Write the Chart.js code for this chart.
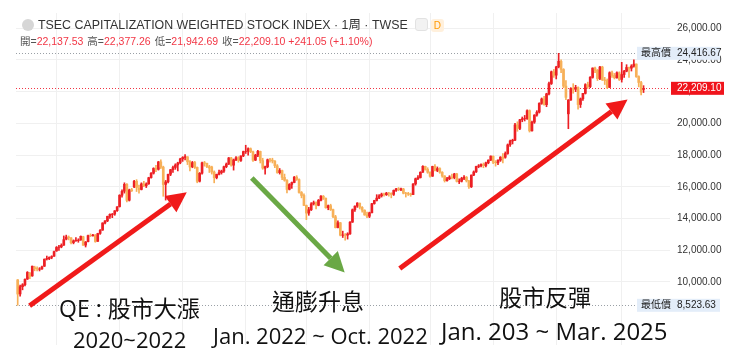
<!DOCTYPE html>
<html>
<head>
<meta charset="utf-8">
<script src="https://cdn.jsdelivr.net/npm/chart.js@4.4.1/dist/chart.umd.min.js"></script>
<style>
  html, body { margin: 0; padding: 0; background: #fff; }
  #wrap { position: relative; width: 740px; height: 358px; overflow: hidden; }
  #chart { position: absolute; left: 0; top: 0; }
  .hdr { position: absolute; left: 0; top: 0; font-family: "Liberation Sans", Arial, "Noto Sans CJK TC", sans-serif; color: #333; white-space: nowrap; }
  .title { position: absolute; left: 22px; top: 18px; font-size: 12.4px; line-height: 14px; }
  .title .dot { display: inline-block; width: 12px; height: 12px; border-radius: 50%; background: #d6d6d6; vertical-align: -2px; margin-right: 4px; }
  .title .b1 { display: inline-block; width: 11px; height: 11px; border-radius: 3px; background: #f2f2f2; border: 1px solid #e2e2e2; vertical-align: -2px; margin-left: 7px; }
  .title .b2 { display: inline-block; padding: 0 3px; border-radius: 3px; background: #fff0dc; color: #ff9800; font-size: 10px; line-height: 13px; margin-left: 3px; }
  .ohlc { position: absolute; left: 20px; top: 35px; font-size: 10.5px; line-height: 12px; color: #555; }
  .ohlc b { font-weight: normal; color: #f23645; margin-right: 4px; }
  .note { position: absolute; color: #111; font-family: "Open Sans", "Noto Sans CJK TC", sans-serif; line-height: 1; white-space: nowrap; }
</style>
</head>
<body>
<div id="wrap">
  <canvas id="chart" width="740" height="358"></canvas>
  <div class="hdr">
    <div class="title"><span class="dot"></span>TSEC CAPITALIZATION WEIGHTED STOCK INDEX · 1周 · TWSE<span class="b1"></span><span class="b2">D</span></div>
    <div class="ohlc" id="ohlc"></div>
  </div>
  <div class="note" style="left:59px;top:297px;font-size:23px;">QE : 股市大漲</div>
  <div class="note" style="left:73px;top:328px;font-size:22px;">2020~2022</div>
  <div class="note" style="left:272px;top:290px;font-size:23px;">通膨升息</div>
  <div class="note" style="left:213px;top:324px;font-size:22px;">Jan. 2022 ~ Oct. 2022</div>
  <div class="note" style="left:499px;top:286px;font-size:23px;">股市反彈</div>
  <div class="note" style="left:441px;top:319px;font-size:24px;">Jan. 203 ~ Mar. 2025</div>
</div>
<script>
// TAIEX weekly candles, week of 2020-03-16 to week of 2025-03-17
const opens = [
  10130, 9240, 9700, 9820, 10180, 10550, 10380, 10900, 10850, 10800,
  10820, 10990, 11450, 11470, 11550, 11620, 11950, 12180, 12210, 12320,
  12700, 12830, 12780, 12480, 12600, 12610, 12650, 12850, 12320, 12540,
  12920, 12910, 12950, 12560, 13060, 13270, 13720, 13850, 14140, 14250,
  14280, 14490, 14750, 15470, 15720, 16150, 15150, 15810, 16000, 16350,
  15900, 15830, 16180, 16060, 16190, 16580, 16860, 17160, 17100, 17570,
  17240, 16150, 16310, 16790, 17080, 17220, 17380, 17510, 17760, 17850,
  17890, 17580, 17260, 17530, 17220, 16350, 16860, 17520, 17480, 17270,
  17250, 16930, 16580, 16790, 16890, 16990, 17270, 17430, 17820, 17360,
  17700, 17830, 17660, 17950, 18230, 18240, 18400, 18200, 17680, 18000,
  18230, 17650, 17170, 17270, 17710, 17680, 17620, 17320, 16890, 17020,
  16590, 16400, 15840, 16150, 16270, 16610, 16450, 15640, 15450, 14820,
  14340, 14550, 14920, 15000, 14830, 15150, 15400, 15270, 14680, 14810,
  14560, 14110, 13430, 13730, 12940, 12960, 12950, 13030, 13770, 14550,
  14780, 14960, 14700, 14520, 14230, 14140, 14360, 14940, 15140, 15290,
  15430, 15540, 15500, 15600, 15590, 15520, 15780, 15870, 15830, 15860,
  15590, 15580, 15540, 15510, 16180, 16510, 16580, 16920, 17290, 17100,
  16920, 16670, 17290, 17030, 17150, 16920, 16680, 16380, 16510, 16620,
  16580, 16810, 16340, 16350, 16530, 16600, 16370, 16000, 16740, 16940,
  17280, 17320, 17410, 17340, 17510, 17680, 17920, 17550, 17510, 17680,
  17870, 17860, 18100, 18650, 18890, 18940, 19900, 19680, 20230, 20290,
  20300, 20800, 19530, 20080, 20520, 20710, 21260, 21540, 21180, 21860,
  22510, 23250, 23040, 23560, 23910, 23400, 22350, 20600, 21470, 22190,
  22150, 22260, 21190, 21550, 21890, 22440, 22320, 22900, 23490, 23350,
  22830, 23550, 22740, 22700, 22270, 23190, 23020, 22870, 23190, 22770,
  23080, 23290, 23520, 23480, 23610, 23740, 22950, 22570, 22137.53
];
const highs = [
  10150, 9800, 9890, 10200, 10650, 10600, 11000, 10990, 10950, 10900,
  11000, 11450, 11630, 11580, 11650, 11950, 12230, 12300, 12400, 12900,
  12950, 12900, 12800, 12650, 12800, 12720, 12900, 12880, 12550, 12950,
  13030, 13000, 12990, 13070, 13300, 13730, 13860, 14150, 14300, 14320,
  14500, 14750, 15500, 15800, 16250, 16200, 15850, 15900, 16400, 16450,
  16100, 16250, 16350, 16250, 16600, 16900, 17200, 17350, 17600, 17700,
  17300, 16400, 16800, 17100, 17300, 17450, 17550, 17800, 17900, 18034,
  17900, 17650, 17600, 17600, 17250, 16900, 17550, 17600, 17500, 17350,
  17300, 17000, 16800, 17050, 17050, 17300, 17500, 17850, 17850, 17750,
  17900, 17900, 17950, 18250, 18619, 18450, 18450, 18250, 18050, 18300,
  18250, 17800, 17300, 17750, 17800, 17800, 17650, 17400, 17150, 17050,
  16800, 16450, 16200, 16300, 16650, 16700, 16500, 15700, 15550, 14850,
  14700, 15000, 15100, 15050, 15200, 15450, 15450, 15300, 14850, 14900,
  14600, 14200, 13850, 13750, 13200, 13050, 13100, 13800, 14600, 14800,
  15000, 14980, 14750, 14550, 14400, 14400, 14950, 15150, 15500, 15500,
  15600, 15600, 15650, 15650, 15620, 15800, 15900, 15950, 15920, 15900,
  15650, 15650, 15600, 16200, 16550, 16700, 16950, 17330, 17300, 17200,
  16950, 17300, 17400, 17250, 17200, 16950, 16700, 16600, 16700, 16800,
  16850, 16850, 16500, 16600, 16700, 16650, 16400, 16750, 17000, 17300,
  17400, 17450, 17500, 17550, 17700, 17950, 17950, 17650, 17700, 17900,
  18100, 18200, 18700, 18950, 19000, 20000, 20100, 20250, 20400, 20500,
  20850, 20850, 20150, 20550, 20800, 21300, 21600, 21700, 21900, 22600,
  23300, 23400, 23600, 24416.67, 24000, 23450, 22700, 21500, 22250, 22500,
  22400, 22300, 21600, 21900, 22500, 22600, 22950, 23500, 23550, 23400,
  23600, 23600, 22900, 22800, 23250, 23300, 23150, 23250, 23250, 23850,
  23350, 23700, 23550, 23700, 24000, 23750, 23000, 22650, 22377.26
];
const lows = [
  8523.63, 9100, 9500, 9750, 10150, 10200, 10350, 10700, 10700, 10690,
  10780, 10970, 11380, 11400, 11460, 11600, 11930, 11980, 12150, 12300,
  12650, 12650, 12400, 12400, 12550, 12500, 12620, 12300, 12200, 12520,
  12850, 12880, 12500, 12550, 13000, 13250, 13650, 13800, 14000, 14050,
  14200, 14450, 14720, 15350, 15600, 15050, 15100, 15700, 15950, 15700,
  15600, 15800, 16000, 15950, 16150, 16550, 16800, 16950, 17050, 17150,
  15400, 15160, 16250, 16700, 16900, 17100, 17000, 17450, 17600, 17700,
  17400, 17000, 17200, 17150, 16250, 16300, 16800, 17300, 17200, 16900,
  16800, 16248, 16500, 16750, 16800, 16900, 17200, 17400, 17300, 17050,
  17650, 17550, 17600, 17900, 18100, 18000, 18150, 17600, 17650, 17900,
  17500, 17100, 16800, 17200, 17550, 17500, 17200, 16850, 16800, 16450,
  16350, 15616, 15800, 15900, 16250, 16400, 15600, 15300, 14800, 13928,
  14200, 14500, 14850, 14600, 14800, 15100, 15200, 14650, 14550, 14500,
  14050, 13400, 13400, 12900, 12800, 12629, 12700, 13000, 13750, 14450,
  14700, 14600, 14400, 14200, 14050, 14050, 14350, 14900, 15100, 15250,
  15350, 15400, 15450, 15400, 15300, 15450, 15700, 15750, 15750, 15550,
  15350, 15450, 15400, 15500, 16100, 16450, 16550, 16900, 17050, 16850,
  16600, 16650, 17000, 16950, 16850, 16600, 16300, 16350, 16450, 16500,
  16500, 16300, 16200, 16300, 16450, 16300, 15900, 15950, 16700, 16900,
  17200, 17250, 17200, 17250, 17450, 17650, 17450, 17300, 17400, 17600,
  17500, 17800, 18050, 18550, 18700, 18900, 19500, 19600, 20100, 20150,
  20250, 19450, 19500, 20000, 20450, 20650, 21200, 21150, 21050, 21800,
  22450, 22900, 22800, 23500, 23200, 22250, 21500, 19662, 21450, 21900,
  22000, 20900, 21000, 21450, 21850, 22200, 22250, 22850, 23200, 22700,
  22750, 22700, 22450, 22200, 22250, 22900, 22800, 22850, 22700, 22600,
  22900, 23250, 22900, 23300, 23550, 22900, 22300, 21800, 21942.69
];
const closes = [
  9234, 9698, 9818, 10157, 10597, 10347, 10992, 10842, 10814, 10811,
  10942, 11430, 11480, 11539, 11600, 11909, 12173, 12200, 12305, 12664,
  12828, 12794, 12470, 12591, 12624, 12634, 12875, 12312, 12515, 12919,
  12908, 12956, 12546, 13050, 13261, 13716, 13845, 14133, 14261, 14270,
  14482, 14732, 15464, 15707, 16153, 15138, 15802, 15750, 16341, 15953,
  15820, 16179, 16070, 16178, 16571, 16855, 17158, 17097, 17566, 17235,
  16146, 16302, 16778, 17076, 17213, 17371, 17502, 17755, 17847, 17895,
  17573, 17247, 17526, 17219, 16341, 16849, 17510, 17474, 17276, 17180,
  16934, 16571, 16781, 16888, 16987, 17264, 17427, 17817, 17370, 17697,
  17826, 17669, 17946, 18218, 18239, 18403, 18218, 17674, 17997, 18232,
  17652, 17178, 17264, 17704, 17676, 17625, 17325, 16898, 17025, 16592,
  16408, 15832, 16144, 16266, 16605, 16460, 15641, 15449, 14825, 14340,
  14551, 14921, 14999, 14830, 15151, 15408, 15278, 14673, 14807, 14559,
  14118, 13424, 13732, 12946, 12960, 12949, 13026, 13767, 14550, 14778,
  14970, 14705, 14527, 14224, 14137, 14359, 14932, 15132, 15285, 15427,
  15535, 15503, 15598, 15585, 15521, 15773, 15868, 15829, 15867, 15589,
  15579, 15540, 15502, 16174, 16505, 16578, 16912, 17288, 17098, 16915,
  16664, 17283, 17030, 17145, 16917, 16681, 16381, 16504, 16617, 16580,
  16807, 16343, 16353, 16526, 16601, 16374, 16001, 16734, 16935, 17279,
  17318, 17405, 17335, 17508, 17678, 17931, 17550, 17514, 17682, 17868,
  17780, 18096, 18644, 18889, 18935, 19901, 19682, 20228, 20294, 20300,
  20796, 19527, 20073, 20516, 20706, 21258, 21537, 21174, 21858, 22504,
  23253, 23032, 23556, 23917, 23403, 22342, 21638, 21469, 22191, 22148,
  22268, 21186, 21544, 21889, 22440, 22319, 22902, 23487, 23348, 22820,
  23553, 22743, 22700, 22262, 23193, 23021, 22875, 23190, 22768, 23079,
  23283, 23525, 23478, 23614, 23737, 22948, 22577, 21968.05, 22209.10
];
// weeks with no trading (Lunar New Year) have no candle
const closedWeeks = ['2022-01-31', '2023-01-23', '2025-01-27'];
const yTicks = [10000, 12000, 14000, 16000, 18000, 20000, 22000, 24000, 26000];

// annotation arrows: [fromWeek, fromPrice, toWeek, toPrice, colour]
const arrows = [
  [4.9, 8500, 69.7, 15650, '#f01a1a'],
  [96.5, 16550, 134.8, 10600, '#6aa845'],
  [157.5, 10850, 251.4, 21500, '#f01a1a']
];

const weeks = [];
let d = new Date(Date.UTC(2020, 2, 16));
while (weeks.length < closes.length) {
  const s = d.toISOString().slice(0, 10);
  if (!closedWeeks.includes(s)) weeks.push(s);
  d.setUTCDate(d.getUTCDate() + 7);
}
const halfOf = s => s.slice(0, 4) + (Number(s.slice(5, 7)) <= 6 ? 'a' : 'b');
const gridWeeks = [];
for (let i = 1; i < weeks.length; i++) {
  if (halfOf(weeks[i]) !== halfOf(weeks[i - 1])) gridWeeks.push(i);
}

const UP = '#ec1f24', DOWN = '#f7b058';
const colors = closes.map((c, i) => c >= opens[i] ? UP : DOWN);
const fmt = v => v.toLocaleString('en-US', { minimumFractionDigits: 2, maximumFractionDigits: 2 });

const last = closes.length - 1;
const chg = closes[last] - closes[last - 1];
document.getElementById('ohlc').innerHTML =
  '開=<b>' + fmt(opens[last]) + '</b>高=<b>' + fmt(highs[last]) + '</b>低=<b>' + fmt(lows[last]) +
  '</b>收=<b>' + fmt(closes[last]) + ' +' + fmt(chg) + ' (+' + (chg / closes[last - 1] * 100).toFixed(2) + '%)</b>';

const maxVal = Math.max(...highs);
const minVal = Math.min(...lows);

function drawArrow(ctx, x0, y0, x1, y1, color) {
  const a = Math.atan2(y1 - y0, x1 - x0);
  const head = 20, half = 10;
  const bx = x1 - head * Math.cos(a), by = y1 - head * Math.sin(a);
  ctx.strokeStyle = color;
  ctx.lineWidth = 5;
  ctx.beginPath();
  ctx.moveTo(x0, y0);
  ctx.lineTo(bx, by);
  ctx.stroke();
  ctx.fillStyle = color;
  ctx.beginPath();
  ctx.moveTo(x1, y1);
  ctx.lineTo(bx + half * Math.sin(a), by - half * Math.cos(a));
  ctx.lineTo(bx - half * Math.sin(a), by + half * Math.cos(a));
  ctx.closePath();
  ctx.fill();
}

function tag(ctx, y, label, value, bg, fg) {
  ctx.font = '10px "Liberation Sans", Arial, "Noto Sans CJK TC"';
  ctx.textBaseline = 'middle';
  const x0 = label ? 637 : 671;
  const x1 = label ? 720 : 724;
  ctx.fillStyle = bg;
  ctx.fillRect(x0, y - 6.5, x1 - x0, 13);
  ctx.fillStyle = fg;
  if (label) ctx.fillText(label, 641, y);
  ctx.fillText(value, 677, y);
}

const markers = {
  id: 'markers',
  beforeDatasetsDraw(chart) {
    const { ctx, chartArea, scales: { y } } = chart;
    ctx.save();
    ctx.lineWidth = 1;
    ctx.setLineDash([1, 2]);
    ctx.strokeStyle = '#9aa0a6';
    [maxVal, minVal].forEach(v => {
      const py = Math.round(y.getPixelForValue(v)) + 0.5;
      ctx.beginPath(); ctx.moveTo(chartArea.left, py); ctx.lineTo(637, py); ctx.stroke();
    });
    ctx.strokeStyle = '#f23645';
    const pc = Math.round(y.getPixelForValue(closes[last])) + 0.5;
    ctx.beginPath(); ctx.moveTo(chartArea.left, pc); ctx.lineTo(chartArea.right, pc); ctx.stroke();
    ctx.restore();
  },
  afterDraw(chart) {
    const { ctx, scales: { x, y } } = chart;
    ctx.save();
    tag(ctx, y.getPixelForValue(maxVal), '最高價', fmt(maxVal), '#e3edf9', '#222');
    tag(ctx, y.getPixelForValue(minVal), '最低價', fmt(minVal), '#e3edf9', '#222');
    tag(ctx, y.getPixelForValue(closes[last]), '', fmt(closes[last]), '#f0141c', '#fff');
    arrows.forEach(([w0, p0, w1, p1, c]) => {
      drawArrow(ctx, x.getPixelForValue(w0), y.getPixelForValue(p0), x.getPixelForValue(w1), y.getPixelForValue(p1), c);
    });
    ctx.restore();
  }
};

new Chart(document.getElementById('chart'), {
  type: 'bar',
  data: {
    datasets: [
      {
        label: 'wick',
        data: closes.map((c, i) => ({ x: i, y: [lows[i], highs[i]] })),
        backgroundColor: colors,
        barThickness: 1,
        grouped: false,
        order: 2
      },
      {
        label: 'body',
        data: closes.map((c, i) => ({ x: i, y: [opens[i], c] })),
        backgroundColor: colors,
        barThickness: 2,
        grouped: false,
        order: 1
      }
    ]
  },
  options: {
    responsive: false,
    animation: false,
    layout: { padding: { left: 16, top: 0, right: 0, bottom: 0 } },
    plugins: { legend: { display: false }, tooltip: { enabled: false } },
    scales: {
      x: {
        type: 'linear',
        min: -0.7,
        max: 268.9,
        offset: false,
        afterBuildTicks: s => { s.ticks = gridWeeks.map(v => ({ value: v })); },
        afterFit: s => { s.height = 0; },
        ticks: { display: false },
        grid: { color: '#f0f0f0', drawTicks: false, offset: false },
        border: { display: false }
      },
      y: {
        position: 'right',
        min: 6020,
        max: 26960,
        afterBuildTicks: s => { s.ticks = yTicks.map(v => ({ value: v })); },
        afterFit: s => { s.width = 70; },
        ticks: {
          padding: 7,
          crossAlign: 'near',
          color: '#333',
          font: { family: '"Liberation Sans", Arial, sans-serif', size: 10 },
          callback: v => fmt(v)
        },
        grid: { color: '#f0f0f0', drawTicks: false },
        border: { display: false }
      }
    }
  },
  plugins: [markers]
});
</script>
</body>
</html>
